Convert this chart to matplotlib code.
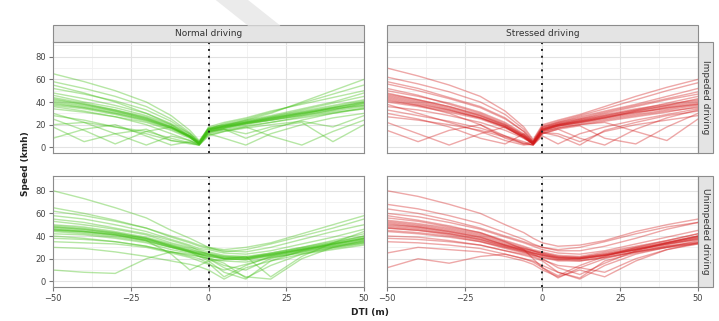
import matplotlib.pyplot as plt
from matplotlib.patches import Rectangle, Polygon

dti = [-50, -40, -30, -20, -12, -6, -3, 0, 5, 12, 20, 30, 40, 50]

# speed traces (kmh), one list per trip
normal_impeded = [
    [40, 36, 31, 25, 18, 10, 3, 15, 18, 21, 25, 30, 34, 38],
    [44, 39, 33, 27, 19, 10, 4, 16, 19, 22, 26, 31, 36, 41],
    [37, 34, 29, 23, 16, 9, 3, 14, 17, 20, 24, 28, 32, 36],
    [48, 43, 37, 30, 21, 12, 5, 17, 20, 23, 27, 32, 37, 42],
    [34, 31, 27, 22, 15, 8, 3, 13, 16, 19, 22, 27, 31, 34],
    [42, 38, 33, 26, 18, 10, 4, 15, 18, 22, 25, 29, 35, 40],
    [65, 58, 50, 40, 28, 15, 6, 17, 20, 24, 30, 40, 50, 60],
    [58, 52, 45, 36, 25, 13, 5, 16, 21, 25, 31, 39, 47, 55],
    [52, 47, 41, 33, 23, 12, 4, 18, 22, 26, 32, 38, 44, 50],
    [25, 15, 3, 14, 18, 9, 3, 12, 8, 2, 12, 20, 26, 30],
    [18, 5, 12, 16, 6, 4, 2, 10, 14, 18, 10, 2, 14, 24],
    [30, 22, 12, 2, 10, 6, 3, 14, 16, 12, 18, 22, 5, 20],
    [8, 16, 20, 10, 2, 5, 3, 12, 15, 18, 22, 26, 30, 34],
    [28, 24, 18, 14, 8, 4, 2, 13, 16, 8, 16, 24, 30, 35],
    [46, 40, 35, 28, 20, 11, 4, 16, 19, 23, 27, 33, 39, 45],
    [36, 32, 27, 20, 12, 6, 2, 14, 17, 21, 24, 28, 33, 37],
    [55, 48, 40, 30, 20, 10, 4, 15, 19, 24, 28, 34, 40, 48],
    [20, 22, 18, 12, 6, 3, 2, 11, 14, 17, 20, 23, 18, 28],
    [41, 37, 32, 26, 18, 9, 3, 16, 19, 22, 26, 31, 35, 39],
    [39, 35, 30, 24, 17, 9, 3, 15, 18, 21, 25, 30, 35, 40],
    [43, 38, 32, 25, 17, 9, 3, 16, 18, 22, 26, 30, 34, 37],
    [38, 35, 30, 24, 17, 10, 4, 14, 17, 21, 24, 29, 33, 39],
]

stressed_impeded = [
    [45, 40, 34, 27, 19, 10, 4, 16, 20, 23, 27, 31, 35, 39],
    [50, 45, 39, 31, 22, 12, 5, 17, 21, 25, 29, 34, 38, 42],
    [40, 36, 31, 25, 17, 9, 3, 15, 19, 22, 25, 29, 33, 37],
    [56, 50, 43, 35, 25, 14, 5, 18, 22, 26, 31, 37, 43, 49],
    [62, 56, 49, 40, 29, 16, 6, 19, 23, 28, 34, 42, 50, 57],
    [70, 63, 55, 45, 32, 18, 7, 20, 24, 29, 36, 45, 53, 60],
    [36, 33, 28, 22, 15, 8, 3, 14, 18, 21, 24, 28, 32, 35],
    [48, 42, 36, 29, 20, 11, 4, 16, 20, 24, 28, 33, 39, 45],
    [30, 25, 18, 8, 3, 12, 4, 13, 10, 2, 15, 22, 28, 32],
    [22, 12, 2, 12, 18, 8, 3, 12, 16, 19, 8, 3, 18, 30],
    [15, 5, 15, 20, 10, 3, 2, 10, 3, 12, 18, 24, 29, 34],
    [42, 37, 30, 20, 8, 3, 5, 14, 17, 20, 22, 14, 6, 25],
    [27, 24, 20, 15, 9, 4, 2, 12, 16, 8, 2, 16, 26, 33],
    [52, 46, 38, 30, 21, 11, 4, 17, 21, 25, 30, 36, 42, 47],
    [38, 30, 22, 14, 6, 2, 3, 13, 17, 20, 23, 27, 31, 36],
    [58, 52, 44, 36, 26, 14, 5, 18, 22, 27, 32, 38, 45, 52],
    [44, 39, 33, 26, 18, 9, 3, 15, 19, 22, 26, 32, 37, 43],
    [33, 28, 23, 17, 10, 5, 2, 13, 12, 5, 14, 20, 24, 28],
    [46, 41, 35, 28, 19, 10, 3, 16, 20, 23, 27, 32, 36, 40],
    [43, 38, 33, 26, 18, 9, 3, 15, 19, 23, 26, 30, 35, 38],
    [47, 42, 36, 28, 20, 10, 4, 16, 20, 24, 28, 33, 37, 41],
    [41, 37, 32, 26, 18, 9, 3, 15, 19, 22, 26, 31, 34, 38],
]

normal_unimpeded = [
    [47, 45, 42, 37, 31, 27, 25, 24, 21, 20, 23, 28, 33, 38],
    [50, 48, 44, 39, 33, 29, 26, 25, 22, 21, 24, 29, 34, 40],
    [44, 42, 39, 35, 30, 26, 24, 23, 20, 19, 22, 27, 32, 36],
    [53, 50, 46, 41, 34, 30, 28, 26, 23, 22, 25, 30, 36, 42],
    [42, 41, 38, 34, 28, 25, 23, 20, 14, 10, 20, 26, 31, 35],
    [48, 46, 43, 38, 31, 26, 22, 18, 8, 2, 18, 27, 33, 38],
    [80, 73, 65, 56, 45, 38, 34, 30, 26, 28, 33, 40, 47, 55],
    [65, 60, 54, 47, 39, 34, 31, 29, 27, 26, 30, 37, 44, 50],
    [58, 55, 50, 44, 37, 32, 29, 28, 25, 24, 27, 33, 39, 46],
    [38, 37, 35, 31, 26, 22, 20, 16, 4, 14, 22, 27, 31, 35],
    [30, 29, 26, 22, 18, 15, 13, 10, 2, 12, 18, 24, 28, 32],
    [10, 8, 7, 20, 26, 24, 22, 20, 12, 4, 2, 20, 30, 36],
    [45, 43, 40, 36, 30, 26, 24, 21, 16, 3, 14, 24, 30, 34],
    [55, 52, 47, 42, 36, 31, 27, 24, 20, 22, 4, 22, 34, 44],
    [40, 38, 35, 31, 26, 23, 22, 20, 18, 17, 21, 25, 29, 33],
    [62, 58, 53, 47, 40, 35, 32, 30, 28, 30, 34, 42, 50, 58],
    [46, 44, 41, 36, 24, 10, 14, 18, 19, 20, 24, 28, 33, 38],
    [35, 34, 33, 30, 25, 21, 18, 15, 10, 15, 21, 26, 30, 34],
    [48, 46, 42, 38, 32, 27, 25, 23, 21, 21, 24, 29, 34, 39],
    [46, 44, 41, 37, 31, 27, 24, 22, 20, 20, 23, 28, 33, 37],
    [49, 47, 43, 38, 32, 28, 26, 24, 22, 21, 25, 30, 35, 40],
    [45, 44, 41, 36, 30, 26, 24, 22, 20, 19, 23, 28, 32, 37],
]

stressed_unimpeded = [
    [52, 49, 45, 40, 33, 29, 27, 25, 22, 21, 24, 29, 34, 39],
    [48, 46, 42, 37, 31, 27, 25, 23, 20, 19, 22, 27, 32, 37],
    [56, 53, 48, 43, 36, 31, 28, 26, 23, 22, 26, 31, 36, 42],
    [60, 57, 52, 46, 39, 34, 31, 28, 25, 24, 27, 33, 39, 45],
    [44, 42, 39, 35, 29, 25, 23, 21, 18, 18, 21, 26, 31, 35],
    [68, 64, 58, 51, 43, 37, 33, 30, 27, 27, 31, 38, 46, 52],
    [80, 75, 68, 60, 50, 43, 38, 34, 31, 32, 36, 44, 50, 55],
    [40, 39, 36, 32, 27, 23, 21, 18, 8, 3, 18, 25, 30, 34],
    [50, 48, 44, 39, 32, 27, 24, 20, 12, 6, 16, 27, 34, 40],
    [35, 34, 32, 29, 24, 20, 17, 12, 3, 12, 20, 26, 31, 34],
    [12, 20, 16, 22, 24, 20, 18, 14, 8, 2, 14, 24, 30, 36],
    [25, 30, 28, 26, 22, 18, 15, 10, 4, 10, 4, 18, 28, 34],
    [47, 45, 41, 36, 30, 26, 24, 22, 19, 20, 23, 28, 33, 38],
    [64, 60, 54, 47, 40, 35, 32, 30, 28, 30, 35, 42, 48, 52],
    [54, 51, 47, 42, 35, 30, 27, 24, 21, 20, 23, 28, 34, 40],
    [38, 37, 35, 32, 27, 24, 22, 19, 14, 12, 8, 20, 28, 33],
    [58, 54, 49, 43, 35, 28, 20, 12, 5, 14, 22, 30, 36, 42],
    [45, 43, 40, 35, 30, 26, 23, 21, 19, 18, 21, 26, 30, 33],
    [51, 48, 44, 39, 32, 28, 26, 24, 21, 21, 24, 29, 34, 39],
    [49, 47, 43, 38, 32, 28, 25, 23, 21, 20, 23, 28, 33, 38],
    [53, 50, 46, 41, 34, 29, 27, 25, 22, 21, 25, 30, 35, 40],
    [47, 45, 42, 37, 31, 27, 25, 23, 20, 20, 23, 28, 33, 37],
]

col_titles = ["Normal driving", "Stressed driving"]
row_titles = ["Impeded driving", "Unimpeded driving"]
x_ticks = [-50, -25, 0, 25, 50]
y_ticks = [0, 20, 40, 60, 80]

GREEN = "#3fbf12"
RED = "#d21a1a"
STRIP = "#e4e4e4"
EDGE = "#8c8c8c"

fig = plt.figure(figsize=(7.19, 3.21), dpi=100)

# faint watermark band at the top
fig.patches.append(Polygon([[0.30, 1.0], [0.345, 1.0], [0.39, 0.92], [0.345, 0.92]],
                           closed=True, transform=fig.transFigure,
                           facecolor="#ebebeb", edgecolor="none"))

lefts = [0.0737, 0.5382]
bottoms = [0.5234, 0.1059]
w, h = 0.4326, 0.3458

panels = [[normal_impeded, stressed_impeded], [normal_unimpeded, stressed_unimpeded]]
colors = [GREEN, RED]

for r in range(2):
    for c in range(2):
        ax = fig.add_axes([lefts[c], bottoms[r], w, h])
        for trace in panels[r][c]:
            ax.plot(dti, trace, color=colors[c], lw=1.0, alpha=0.38, solid_capstyle="round")
        ax.axvline(0, color="#222222", lw=1.4, ls=(0, (1, 2.5)))
        ax.set_xlim(-50, 50)
        ax.set_ylim(-5, 93)
        ax.set_xticks(x_ticks)
        ax.set_xticks([-37.5, -12.5, 12.5, 37.5], minor=True)
        ax.set_yticks(y_ticks)
        ax.set_yticks([10, 30, 50, 70, 90], minor=True)
        ax.grid(which="major", color="#e2e2e2", lw=0.8)
        ax.grid(which="minor", color="#f0f0f0", lw=0.6)
        ax.set_axisbelow(True)
        ax.tick_params(which="minor", length=0)
        ax.tick_params(which="major", length=3, width=0.8, color="#777777",
                       labelsize=6, labelcolor="#444444", pad=2)
        for s in ax.spines.values():
            s.set_color(EDGE)
            s.set_linewidth(0.8)
        if c == 1:
            ax.tick_params(axis="y", left=False, labelleft=False)
        if r == 0:
            ax.tick_params(axis="x", bottom=False, labelbottom=False)
        if r == 0:
            ax.add_patch(Rectangle((0, 1), 1, 0.153, transform=ax.transAxes, clip_on=False,
                                   facecolor=STRIP, edgecolor=EDGE, lw=0.8))
            ax.text(0.5, 1.077, col_titles[c], transform=ax.transAxes, ha="center",
                    va="center", fontsize=6.5, color="#333333")
        if c == 1:
            ax.add_patch(Rectangle((1, 0), 0.048, 1, transform=ax.transAxes, clip_on=False,
                                   facecolor=STRIP, edgecolor=EDGE, lw=0.8))
            ax.text(1.024, 0.5, row_titles[r], transform=ax.transAxes, ha="center",
                    va="center", rotation=-90, fontsize=6.5, color="#333333")

fig.text(0.035, 0.49, "Speed (kmh)", rotation=90, ha="center", va="center",
         fontsize=6.5, fontweight="bold", color="#222222")
fig.text(0.515, 0.025, "DTI (m)", ha="center", va="center",
         fontsize=6.5, fontweight="bold", color="#222222")

fig.savefig("out.png", dpi=100)
